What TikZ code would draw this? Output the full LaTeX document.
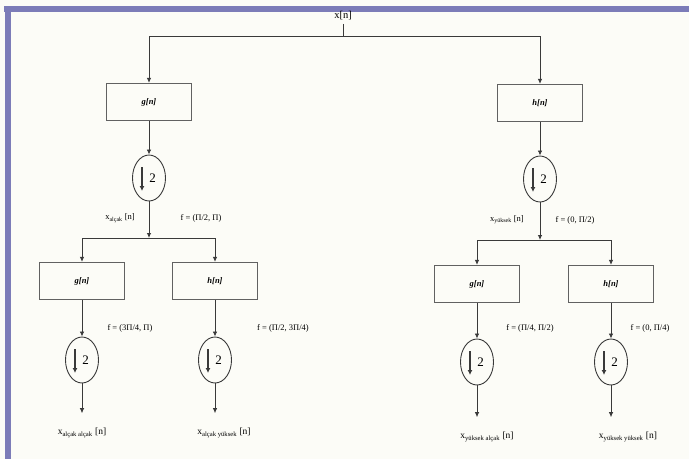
\documentclass[tikz,border=0pt]{standalone}
\usepackage{fontspec}
\setmainfont{Liberation Serif}
\usetikzlibrary{arrows.meta,positioning,shapes.geometric}
\definecolor{Frame}{HTML}{7C7CB8}
\definecolor{Paper}{HTML}{FCFCF7}
\definecolor{Wire}{HTML}{3A3A3A}

\begin{document}
\begin{tikzpicture}[x=1pt,y=-1pt,>={Latex[length=5pt,width=4.5pt]},
  filt/.style={draw=Wire!80,line width=1.2pt,minimum width=85pt,minimum height=37pt,inner sep=0pt,font=\fontsize{8.5}{9}\selectfont\bfseries\itshape},
  dec/.style={ellipse,draw=Wire,line width=0.9pt,minimum width=33pt,minimum height=46pt,inner sep=0pt,font=\fontsize{13}{14}\selectfont},
  wire/.style={Wire,line width=0.85pt},
  band/.style={font=\fontsize{8.5}{9}\selectfont,inner sep=1pt},
  outlbl/.style={font=\fontsize{9.5}{10}\selectfont,inner sep=1pt,outer ysep=14pt}]
% page and frame
\fill[Paper] (0,0) rectangle (689,459);
\fill[Frame] (4,6) rectangle (689,12);
\fill[Frame] (5,6) rectangle (11,459);
\useasboundingbox (0,0) rectangle (689,459);

% first stage
\node[font=\fontsize{10.5}{11}\selectfont] (xn) at (343,16) {x[n]};
\coordinate (s0) at (343,36);
\node[filt] (g1) at (149,102) {g[n]};
\node[filt] (h1) at (540,103) {h[n]};
\node[dec] (d1) at (149,178) {\hspace{7pt}2};
\node[dec] (d2) at (540,179) {\hspace{7pt}2};
\coordinate (s1) at (149,238);
\coordinate (s2) at (540,240);
\node[band] (lg) at (120,218) {x\textsubscript{alçak} [n]};
\node[band] (fg) at (201,218) {f = (Π/2, Π)};
\node[band] (lh) at (507,220) {x\textsubscript{yüksek} [n]};
\node[band] (fh) at (575,220) {f = (0, Π/2)};

% second stage
\node[filt] (gg) at (82,281) {g[n]};
\node[filt] (hg) at (215,281) {h[n]};
\node[filt] (gh) at (477,284) {g[n]};
\node[filt] (hh) at (611,284) {h[n]};
\node[dec] (dgg) at (82,360) {\hspace{7pt}2};
\node[dec] (dhg) at (215,360) {\hspace{7pt}2};
\node[dec] (dgh) at (477,362) {\hspace{7pt}2};
\node[dec] (dhh) at (611,362) {\hspace{7pt}2};
\node[band] (fgg) at (130,328) {f = (3Π/4, Π)};
\node[band] (fhg) at (283,328) {f = (Π/2, 3Π/4)};
\node[band] (fgh) at (530,328) {f = (Π/4, Π/2)};
\node[band] (fhh) at (650,328) {f = (0, Π/4)};
\node[outlbl] (ogg) at (82,433) {x\textsubscript{alçak alçak} [n]};
\node[outlbl] (ohg) at (224,433) {x\textsubscript{alçak yüksek} [n]};
\node[outlbl] (ogh) at (487,437) {x\textsubscript{yüksek alçak} [n]};
\node[outlbl] (ohh) at (628,437) {x\textsubscript{yüksek yüksek} [n]};

% connectors
\draw[wire] (xn) -- (s0);
\draw[wire,->] (s0) -| (g1);
\draw[wire,->] (s0) -| (h1);
\draw[wire,->] (g1) -- (d1);
\draw[wire,->] (h1) -- (d2);
\draw[wire,->] (d1) -- (s1);
\draw[wire,->] (d2) -- (s2);
\draw[wire,->] (s1) -| (gg);
\draw[wire,->] (s1) -| (hg);
\draw[wire,->] (s2) -| (gh);
\draw[wire,->] (s2) -| (hh);
\foreach \b/\d/\o in {gg/dgg/ogg,hg/dhg/ohg,gh/dgh/ogh,hh/dhh/ohh}{
  \draw[wire,->] (\b) -- (\d);
  \draw[wire,->] (\d.south) -- (\d.south |- \o.north);
}
% down-sampling arrows
\foreach \d in {d1,d2,dgg,dhg,dgh,dhh}
  \draw[Wire,line width=1.1pt,-{Latex[length=5pt,width=5pt]}] ([xshift=-7pt,yshift=11pt]\d.center) -- ([xshift=-7pt,yshift=-13pt]\d.center);
\end{tikzpicture}
\end{document}
